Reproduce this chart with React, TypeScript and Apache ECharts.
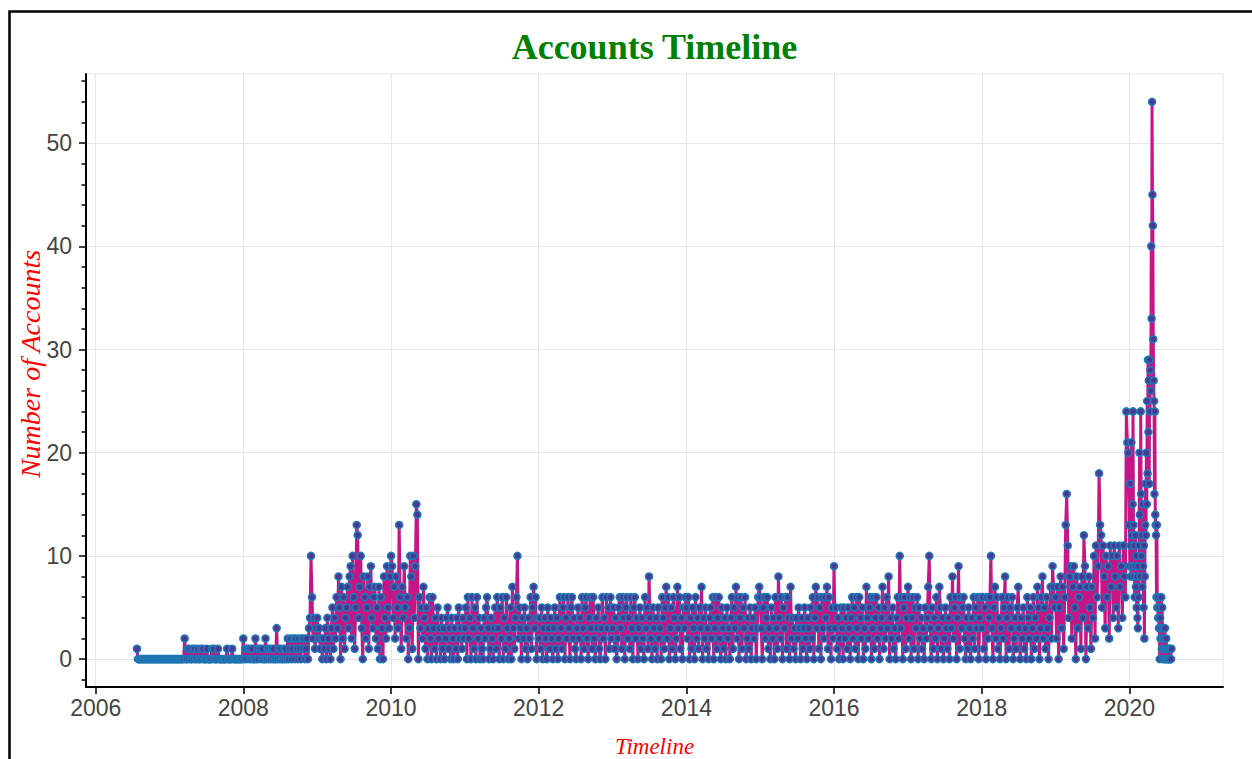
import React, { useEffect, useRef } from "react";
import * as echarts from "echarts";

// ---- Data (daily account counts, sampled every few days) ----
const BLOCK_START_DATES = [
  "2006-07-24", "2007-01-01", "2008-01-01", "2009-01-01", "2010-01-01",
  "2011-01-01", "2012-01-01", "2013-01-01", "2014-01-01", "2015-01-01",
  "2016-01-01", "2017-01-01", "2018-01-01", "2019-01-01", "2020-01-01",
];
const BLOCK_STEP_DAYS = [5, 5, 5, 5, 5, 5, 5, 5, 5, 5, 5, 5, 5, 5, 2];

const accounts2006 = [1, 0, 0, 0, 0, 0, 0, 0, 0, 0, 0, 0, 0, 0, 0, 0, 0, 0, 0, 0, 0, 0, 0, 0, 0, 0, 0, 0, 0, 0, 0, 0];
const accounts2007 = [
  0, 0, 0, 0, 0, 0, 0, 0, 0, 0, 0, 0, 0, 0, 0, 2, 0, 0, 1, 0,
  1, 0, 0, 1, 0, 1, 0, 0, 1, 0, 0, 1, 0, 1, 0, 0, 0, 1, 0, 0,
  0, 0, 1, 0, 1, 0, 0, 0, 1, 0, 0, 0, 0, 0, 0, 0, 0, 1, 0, 0,
  0, 0, 1, 0, 0, 0, 0, 0, 0, 0, 0, 0, 0,
];
const accounts2008 = [
  2, 0, 1, 0, 1, 1, 0, 1, 0, 1, 0, 0, 2, 0, 1, 0, 1, 1, 0, 1,
  0, 0, 2, 0, 1, 0, 1, 0, 1, 0, 1, 0, 0, 3, 0, 1, 0, 1, 0, 0,
  1, 0, 1, 0, 2, 0, 1, 2, 0, 1, 2, 0, 2, 1, 0, 2, 1, 0, 2, 1,
  2, 0, 1, 2, 0, 3, 4, 10, 6, 2, 4, 1, 3,
];
const accounts2009 = [
  4, 2, 3, 1, 2, 0, 2, 1, 3, 0, 4, 2, 1, 0, 3, 5, 1, 4, 2, 6,
  3, 8, 5, 0, 7, 2, 6, 1, 4, 5, 7, 3, 8, 9, 2, 10, 6, 1, 5, 13,
  12, 4, 7, 10, 3, 0, 8, 6, 2, 5, 8, 1, 7, 9, 4, 3, 6, 7, 2, 5,
  1, 7, 0, 6, 3, 0, 8, 4, 2, 9, 5, 3, 8,
];
const accounts2010 = [
  10, 9, 4, 7, 2, 8, 5, 3, 13, 6, 1, 7, 4, 9, 5, 2, 6, 0, 3, 10,
  8, 1, 10, 4, 9, 15, 14, 0, 6, 3, 5, 2, 7, 4, 1, 5, 0, 3, 6, 2,
  0, 6, 3, 1, 4, 0, 5, 2, 3, 0, 4, 1, 3, 0, 2, 4, 5, 1, 3, 0,
  4, 2, 0, 3, 1, 4, 0, 5, 2, 3, 1, 4, 2,
];
const accounts2011 = [
  3, 5, 0, 6, 2, 4, 0, 6, 3, 1, 5, 0, 6, 2, 4, 0, 3, 1, 0, 4,
  2, 5, 6, 3, 0, 1, 4, 2, 0, 3, 5, 1, 6, 3, 0, 5, 2, 6, 0, 4,
  1, 6, 3, 0, 2, 5, 0, 7, 3, 1, 4, 6, 10, 2, 5, 3, 0, 4, 2, 5,
  1, 3, 0, 4, 2, 6, 1, 5, 7, 3, 6, 0, 4,
];
const accounts2012 = [
  2, 4, 1, 5, 0, 3, 4, 2, 0, 5, 3, 1, 4, 2, 0, 3, 5, 1, 4, 0,
  2, 6, 3, 1, 5, 6, 0, 4, 2, 6, 3, 0, 5, 6, 2, 4, 1, 0, 3, 5,
  2, 4, 0, 6, 3, 1, 5, 6, 2, 0, 4, 6, 3, 1, 6, 2, 0, 4, 3, 5,
  1, 0, 3, 6, 2, 4, 0, 6, 3, 5, 1, 6, 2,
];
const accounts2013 = [
  3, 5, 1, 4, 0, 2, 5, 6, 3, 1, 6, 4, 0, 5, 6, 2, 4, 1, 6, 3,
  0, 5, 6, 2, 4, 0, 3, 5, 1, 4, 2, 0, 6, 3, 5, 1, 8, 4, 2, 0,
  5, 3, 1, 4, 0, 5, 2, 3, 0, 6, 4, 1, 5, 7, 2, 6, 0, 3, 5, 1,
  6, 4, 0, 2, 7, 3, 6, 1, 4, 0, 5, 3, 6,
];
const accounts2014 = [
  5, 2, 6, 0, 4, 1, 5, 3, 0, 6, 2, 4, 1, 5, 3, 7, 0, 4, 2, 5,
  1, 3, 0, 4, 5, 2, 6, 0, 3, 6, 1, 4, 6, 2, 0, 5, 3, 1, 4, 0,
  5, 2, 3, 0, 4, 6, 1, 5, 3, 7, 2, 6, 0, 4, 6, 1, 5, 3, 6, 0,
  2, 4, 1, 5, 0, 3, 4, 2, 5, 0, 3, 6, 7,
];
const accounts2015 = [
  6, 3, 0, 5, 6, 2, 4, 6, 1, 3, 0, 5, 2, 4, 0, 6, 3, 1, 8, 4,
  2, 6, 0, 5, 3, 6, 1, 6, 4, 0, 7, 2, 4, 1, 3, 0, 4, 2, 5, 3,
  0, 4, 1, 3, 5, 2, 0, 4, 3, 1, 5, 2, 6, 0, 4, 7, 3, 6, 1, 5,
  0, 6, 3, 2, 6, 4, 7, 1, 6, 3, 0, 5, 2,
];
const accounts2016 = [
  9, 3, 5, 1, 4, 0, 2, 5, 3, 0, 5, 2, 4, 1, 5, 3, 0, 4, 6, 2,
  5, 1, 6, 3, 0, 6, 4, 2, 5, 0, 3, 1, 7, 4, 2, 5, 6, 0, 3, 6,
  1, 4, 6, 2, 5, 0, 3, 4, 7, 1, 5, 2, 6, 3, 8, 0, 4, 2, 5, 1,
  3, 0, 4, 6, 2, 10, 3, 6, 0, 5, 6, 1, 4,
];
const accounts2017 = [
  7, 2, 6, 0, 4, 6, 1, 5, 3, 6, 0, 5, 2, 4, 1, 3, 0, 5, 2, 4,
  7, 10, 3, 0, 5, 1, 4, 2, 6, 0, 3, 7, 5, 1, 4, 0, 2, 5, 3, 1,
  4, 0, 6, 3, 8, 2, 5, 6, 0, 4, 9, 1, 6, 3, 5, 6, 2, 0, 4, 1,
  5, 3, 0, 4, 2, 6, 1, 5, 3, 6, 0, 4, 6,
];
const accounts2018 = [
  3, 6, 1, 5, 0, 6, 2, 4, 6, 10, 3, 0, 5, 7, 2, 6, 1, 4, 0, 3,
  6, 2, 5, 8, 0, 4, 6, 1, 5, 3, 6, 0, 2, 4, 1, 5, 7, 3, 0, 4,
  2, 5, 1, 3, 0, 6, 4, 2, 5, 0, 3, 6, 1, 4, 2, 7, 5, 0, 3, 6,
  8, 2, 5, 1, 6, 3, 0, 4, 7, 2, 9, 7, 5,
];
const accounts2019 = [
  6, 2, 7, 0, 5, 8, 3, 7, 1, 6, 13, 16, 11, 4, 8, 9, 2, 7, 9, 5,
  0, 8, 3, 6, 7, 1, 8, 4, 12, 9, 0, 7, 3, 8, 5, 1, 7, 4, 10, 2,
  11, 6, 9, 18, 13, 12, 5, 11, 8, 3, 10, 6, 9, 2, 11, 7, 10, 4, 11, 8,
  5, 10, 3, 11, 7, 9, 4, 11, 8, 6, 24, 21, 20,
];
const accounts2020 = [
  13, 9, 17, 11, 8, 21, 12, 9, 15, 24, 13, 8, 11, 6, 9, 12, 7, 10, 5, 8,
  4, 3, 9, 6, 11, 20, 14, 8, 24, 16, 10, 12, 7, 15, 9, 5, 11, 2, 8, 13,
  17, 12, 20, 15, 25, 18, 29, 22, 27, 17, 29, 24, 28, 26, 40, 33, 54, 45, 42, 31,
  27, 25, 16, 24, 14, 13, 12, 6, 13, 5, 6, 4, 6, 3, 5, 0, 4, 2, 3, 6,
  1, 5, 2, 0, 3, 1, 2, 0, 3, 1, 0, 2, 1, 0, 1, 0, 1, 0, 0, 1,
  0, 1, 0, 0, 1,
];

const ACCOUNT_BLOCKS = [
  accounts2006, accounts2007, accounts2008, accounts2009, accounts2010,
  accounts2011, accounts2012, accounts2013, accounts2014, accounts2015,
  accounts2016, accounts2017, accounts2018, accounts2019, accounts2020,
];

// ---- Axis ticks ----
const X_TICK_YEARS = [2006, 2008, 2010, 2012, 2014, 2016, 2018, 2020];
const Y_MAJOR_TICKS = [0, 10, 20, 30, 40, 50];
const Y_MINOR_TICKS = [-2, 2, 4, 6, 8, 12, 14, 16, 18, 22, 24, 26, 28, 32, 34, 36, 38, 42, 44, 46, 48, 52, 54, 56];
const X_RANGE_DATES = ["2005-11-14", "2021-04-08"];
const Y_RANGE = [-2.7, 56.7];

const TITLE = "Accounts Timeline";
const X_NAME = "Timeline";
const Y_NAME = "Number of Accounts";

const DAY_MS = 86400000;
const utc = (d: string) => Date.parse(d + "T00:00:00Z");

function buildPoints(): [number, number][] {
  const pts: [number, number][] = [];
  ACCOUNT_BLOCKS.forEach((vals, b) => {
    const t0 = utc(BLOCK_START_DATES[b]);
    vals.forEach((v, i) => pts.push([t0 + i * BLOCK_STEP_DAYS[b] * DAY_MS, v]));
  });
  return pts;
}

export default function App() {
  const ref = useRef<HTMLDivElement>(null);

  useEffect(() => {
    if (!ref.current) return;
    const chart = echarts.init(ref.current, undefined, { renderer: "svg" });
    const xTicks = X_TICK_YEARS.map((y) => Date.UTC(y, 0, 1));
    const tickLine = { color: "#000", width: 1.5 };
    const labelStyle = { color: "#444", fontFamily: "'Liberation Sans', Arial, sans-serif", fontSize: 23 };

    chart.setOption({
      animation: false,
      backgroundColor: "#ffffff",
      grid: {
        left: 86, top: 74, right: 29, bottom: 72,
        show: true, borderColor: "#e5e5e5", borderWidth: 1, backgroundColor: "transparent",
      },
      xAxis: {
        type: "value",
        scale: true,
        min: utc(X_RANGE_DATES[0]),
        max: utc(X_RANGE_DATES[1]),
        axisLine: { show: true, onZero: false, lineStyle: { color: "#000", width: 2 } },
        axisTick: { show: true, customValues: xTicks, length: 7, lineStyle: tickLine },
        axisLabel: {
          ...labelStyle,
          customValues: xTicks,
          margin: 9,
          formatter: (v: number) => String(new Date(v).getUTCFullYear()),
        },
        splitLine: { show: true, lineStyle: { color: "#e6e6e6", width: 1 } },
      },
      yAxis: [
        {
          type: "value",
          min: Y_RANGE[0],
          max: Y_RANGE[1],
          position: "left",
          axisLine: { show: true, onZero: false, lineStyle: { color: "#000", width: 2 } },
          axisTick: { show: true, customValues: Y_MAJOR_TICKS, length: 7, lineStyle: tickLine },
          axisLabel: { ...labelStyle, customValues: Y_MAJOR_TICKS, margin: 14 },
          splitLine: { show: true, lineStyle: { color: "#e6e6e6", width: 1 } },
        },
        {
          type: "value",
          min: Y_RANGE[0],
          max: Y_RANGE[1],
          position: "left",
          axisLine: { show: false },
          axisLabel: { show: false },
          splitLine: { show: false },
          axisTick: { show: true, customValues: Y_MINOR_TICKS, length: 4.5, lineStyle: tickLine },
        },
      ],
      graphic: [
        {
          type: "rect", silent: true, z: -10,
          shape: { x: 9.5, y: 11.5, width: 1300, height: 800 },
          style: { fill: "none", stroke: "#000", lineWidth: 2.5 },
        },
        {
          type: "text", x: 654.5, y: 47, silent: true,
          style: {
            text: TITLE, fill: "#008000",
            font: "bold 36px 'Liberation Serif', 'Times New Roman', serif",
            textAlign: "center", textVerticalAlign: "middle", align: "center", verticalAlign: "middle",
          },
        },
        {
          type: "text", x: 654.5, y: 746, silent: true,
          style: {
            text: X_NAME, fill: "#ff0000",
            font: "italic 23px 'Liberation Serif', 'Times New Roman', serif",
            textAlign: "center", textVerticalAlign: "middle", align: "center", verticalAlign: "middle",
          },
        },
        {
          type: "text", x: 30, y: 364, rotation: Math.PI / 2, silent: true,
          style: {
            text: Y_NAME, fill: "#ff0000",
            font: "italic 28px 'Liberation Serif', 'Times New Roman', serif",
            textAlign: "center", textVerticalAlign: "middle", align: "center", verticalAlign: "middle",
          },
        },
      ],
      series: [
        {
          type: "line",
          name: "Accounts",
          xAxisIndex: 0,
          yAxisIndex: 0,
          data: buildPoints(),
          showSymbol: true,
          showAllSymbol: true,
          symbol: "circle",
          symbolSize: 7,
          lineStyle: { color: "#c71585", width: 3 },
          itemStyle: { color: "#4e3593", borderColor: "#1f77b4", borderWidth: 1.6 },
          emphasis: { disabled: true },
        },
      ],
    });
    return () => chart.dispose();
  }, []);

  return (
    <div
      ref={ref}
      style={{ position: "absolute", left: 0, top: 0, width: 1252, height: 759 }}
    />
  );
}
